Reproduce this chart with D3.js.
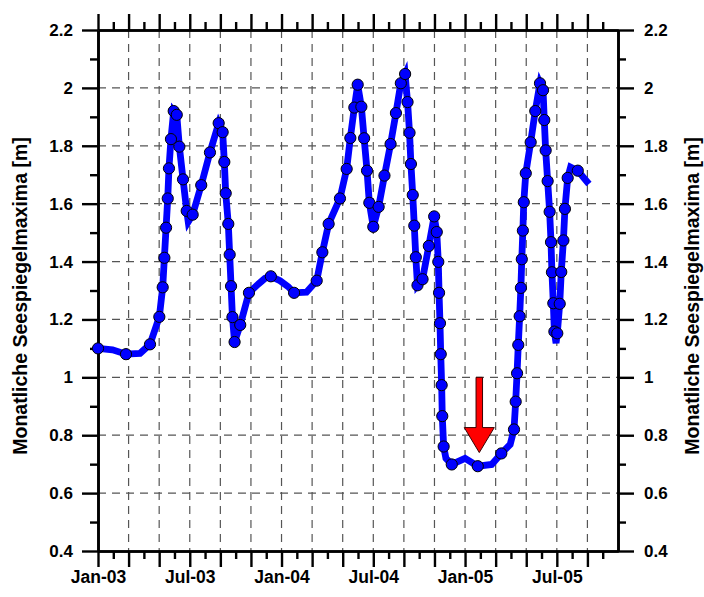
<!DOCTYPE html>
<html>
<head>
<meta charset="utf-8">
<script src="https://cdn.jsdelivr.net/npm/d3@7"></script>
<style>
  html, body { margin: 0; padding: 0; background: #fff; }
  svg { display: block; }
  .lbl { font-family: "Liberation Sans", Arial, Helvetica, sans-serif; font-weight: bold; fill: #000; }
</style>
</head>
<body>
<svg id="chart" width="704" height="597"></svg>
<script>
// Monthly maximum lake levels, time in months since Jan 2003.
// markerOn = 1 : a measured monthly maximum (drawn with a dot)
// markerOn = 0 : intermediate vertex of the level trace only
const monthT = [
  0.00, 0.95, 1.83, 2.75, 3.40, 4.01, 4.23, 4.34, 4.45, 4.56, 4.64, 4.77, 4.95, 5.15, 5.32, 5.56, 5.80, 5.90,
  6.19, 6.75, 7.32, 7.89, 8.15, 8.26, 8.35, 8.52, 8.61, 8.70, 8.79, 8.93, 9.30, 9.87, 10.48, 10.92,
  11.30, 11.90, 12.44, 12.82, 13.63, 14.30, 14.67, 15.08, 15.82, 16.26, 16.50, 16.76, 16.98, 17.22,
  17.40, 17.59, 17.74, 18.00, 18.35, 18.73, 19.13, 19.48, 19.80, 20.08, 20.24, 20.37, 20.46, 20.58,
  20.68, 20.78, 20.89, 21.22, 21.63, 21.98, 22.15, 22.25, 22.30, 22.36, 22.41, 22.47, 22.51, 22.60,
  22.75, 23.13, 24.00, 24.83, 25.74, 26.37, 26.95, 27.20, 27.31, 27.40, 27.48, 27.57, 27.65, 27.71,
  27.78, 27.84, 27.97, 28.29, 28.59, 28.90, 29.10, 29.18, 29.27, 29.40, 29.53, 29.62, 29.68, 29.77,
  29.84, 29.95, 30.03, 30.19, 30.29, 30.43, 30.53, 30.71, 30.90, 31.37, 32.10
];
const levelM = [
  1.100, 1.095, 1.080, 1.083, 1.114, 1.209, 1.311, 1.413, 1.517, 1.618, 1.722, 1.823, 1.920, 1.907, 1.797, 1.684, 1.575, 1.537,
  1.562, 1.664, 1.777, 1.878, 1.847, 1.744, 1.636, 1.530, 1.424, 1.315, 1.208, 1.122, 1.181, 1.292, 1.322, 1.342,
  1.349, 1.334, 1.313, 1.292, 1.294, 1.334, 1.432, 1.530, 1.618, 1.720, 1.827, 1.932, 2.011, 1.935,
  1.826, 1.714, 1.603, 1.520, 1.589, 1.697, 1.806, 1.913, 2.016, 2.048, 1.951, 1.845, 1.737, 1.630,
  1.524, 1.415, 1.318, 1.339, 1.454, 1.556, 1.502, 1.399, 1.292, 1.187, 1.080, 0.973, 0.866, 0.761,
  0.720, 0.699, 0.720, 0.693, 0.699, 0.737, 0.768, 0.820, 0.916, 1.014, 1.112, 1.211, 1.309, 1.408,
  1.507, 1.605, 1.705, 1.812, 1.920, 2.016, 1.992, 1.889, 1.784, 1.678, 1.572, 1.467, 1.363, 1.256,
  1.158, 1.118, 1.152, 1.254, 1.364, 1.473, 1.582, 1.689, 1.726, 1.714, 1.668
];
const markerOn = [
  1, 0, 1, 0, 1, 1, 1, 1, 1, 1, 1, 1, 1, 1, 1, 1, 1, 0,
  1, 1, 1, 1, 1, 1, 1, 1, 1, 1, 1, 1, 1, 1, 0, 0,
  1, 0, 0, 1, 0, 1, 1, 1, 1, 1, 1, 1, 1, 1,
  1, 1, 1, 1, 1, 1, 1, 1, 1, 1, 1, 1, 1, 1,
  1, 1, 1, 1, 1, 1, 1, 1, 1, 1, 1, 1, 1, 1,
  0, 1, 0, 1, 0, 1, 0, 1, 1, 1, 1, 1, 1, 1,
  1, 1, 1, 1, 1, 1, 1, 1, 1, 1, 1, 1, 1, 1,
  1, 0, 1, 1, 1, 1, 1, 1, 0, 1, 0
];

// Axis ticks
const xMonthMax = 34;                       // Jan-03 .. Nov-05
const xLabels = ["Jan-03", "Jul-03", "Jan-04", "Jul-04", "Jan-05", "Jul-05"];
const yMajor = [0.4, 0.6, 0.8, 1.0, 1.2, 1.4, 1.6, 1.8, 2.0, 2.2];
const yMajorText = ["0.4", "0.6", "0.8", "1", "1.2", "1.4", "1.6", "1.8", "2", "2.2"];
const yMinor = [0.5, 0.7, 0.9, 1.1, 1.3, 1.5, 1.7, 1.9, 2.1];
const yTitle = "Monatliche Seespiegelmaxima [m]";

// Annotation arrow (month, from level, to level)
const arrowAt = { t: 24.93, from: 1.0, to: 0.74 };

const series = monthT.map((t, i) => ({ t, v: levelM[i], m: markerOn[i] === 1 }));

const svg = d3.select("#chart");
const L = 98, R = 618, T = 30, B = 551;

const x = d3.scaleLinear().domain([0, xMonthMax]).range([L, R]);
const y = d3.scaleLinear().domain([0.4, 2.2]).range([B, T]);

const xMajorT = d3.range(0, xMonthMax, 2);
const xMinorT = d3.range(1, xMonthMax, 2);
const MAJ = 16, MIN = 8;

// dashed grid
const grid = svg.append("g").attr("stroke", "#555").attr("stroke-width", 1.2)
  .attr("stroke-dasharray", "8,6").attr("fill", "none");
grid.selectAll("line.v").data(xMajorT.filter(t => t > 0)).join("line").attr("class", "v")
  .attr("x1", d => x(d)).attr("x2", d => x(d)).attr("y1", T).attr("y2", B);
grid.selectAll("line.h").data(yMajor.filter(v => v > 0.41 && v < 2.19)).join("line").attr("class", "h")
  .attr("x1", L).attr("x2", R).attr("y1", d => y(d)).attr("y2", d => y(d));

// axes
function styleAxis(size) {
  return g => {
    g.selectAll("path.domain").attr("stroke", "#000").attr("stroke-width", 2.6);
    g.selectAll(".tick line").attr("stroke", "#000").attr("stroke-width", 2.4);
    g.selectAll(".tick text").attr("class", "lbl").style("font-size", size + "px");
  };
}
const labelOf = t => (t % 6 === 0 ? xLabels[t / 6] : "");

svg.append("g").attr("transform", `translate(0,${B})`)
  .call(d3.axisBottom(x).tickValues(xMajorT).tickSize(MAJ).tickSizeOuter(0).tickPadding(4).tickFormat(labelOf))
  .call(styleAxis(17.5));
svg.append("g").attr("transform", `translate(0,${B})`)
  .call(d3.axisBottom(x).tickValues(xMinorT).tickSize(MIN).tickSizeOuter(0).tickFormat(""))
  .call(styleAxis(17));
svg.append("g").attr("transform", `translate(0,${T})`)
  .call(d3.axisTop(x).tickValues(xMajorT).tickSize(MAJ).tickSizeOuter(0).tickFormat(""))
  .call(styleAxis(17));
svg.append("g").attr("transform", `translate(0,${T})`)
  .call(d3.axisTop(x).tickValues(xMinorT).tickSize(MIN).tickSizeOuter(0).tickFormat(""))
  .call(styleAxis(17));

svg.append("g").attr("transform", `translate(${L},0)`)
  .call(d3.axisLeft(y).tickValues(yMajor).tickSize(MAJ).tickSizeOuter(0).tickPadding(9)
    .tickFormat((d, i) => yMajorText[i]))
  .call(styleAxis(17));
svg.append("g").attr("transform", `translate(${L},0)`)
  .call(d3.axisLeft(y).tickValues(yMinor).tickSize(MIN).tickSizeOuter(0).tickFormat(""))
  .call(styleAxis(17));
svg.append("g").attr("transform", `translate(${R},0)`)
  .call(d3.axisRight(y).tickValues(yMajor).tickSize(MAJ).tickSizeOuter(0).tickPadding(10)
    .tickFormat((d, i) => yMajorText[i]))
  .call(styleAxis(17));
svg.append("g").attr("transform", `translate(${R},0)`)
  .call(d3.axisRight(y).tickValues(yMinor).tickSize(MIN).tickSizeOuter(0).tickFormat(""))
  .call(styleAxis(17));

// axis titles
svg.append("text").attr("class", "lbl").style("font-size", "19.5px")
  .attr("text-anchor", "middle").attr("transform", "translate(27,296) rotate(-90)").text(yTitle);
svg.append("text").attr("class", "lbl").style("font-size", "19.5px")
  .attr("text-anchor", "middle").attr("transform", "translate(699,296) rotate(-90)").text(yTitle);

// level trace
const line = d3.line().x(d => x(d.t)).y(d => y(d.v)).curve(d3.curveLinear);
svg.append("path").datum(series).attr("d", line)
  .attr("fill", "none").attr("stroke", "#0000ff").attr("stroke-width", 6.8)
  .attr("stroke-linejoin", "miter").attr("stroke-miterlimit", 4);

svg.append("g").selectAll("circle").data(series.filter(d => d.m)).join("circle")
  .attr("cx", d => x(d.t)).attr("cy", d => y(d.v)).attr("r", 5.6)
  .attr("fill", "#0000ff").attr("stroke", "#000").attr("stroke-width", 1);

// red arrow
{
  const ax = x(arrowAt.t), y0 = y(arrowAt.from), y1 = y(arrowAt.to);
  const shaftW = 6.5, headW = 30, headL = 25;
  const yb = y1 - headL;
  const pts = [
    [ax - shaftW / 2, y0], [ax + shaftW / 2, y0], [ax + shaftW / 2, yb], [ax + headW / 2, yb],
    [ax, y1], [ax - headW / 2, yb], [ax - shaftW / 2, yb]
  ];
  svg.append("path").attr("d", d3.line()(pts) + "Z")
    .attr("fill", "#ff0000").attr("stroke", "#3a0000").attr("stroke-width", 1);
}
</script>
</body>
</html>
